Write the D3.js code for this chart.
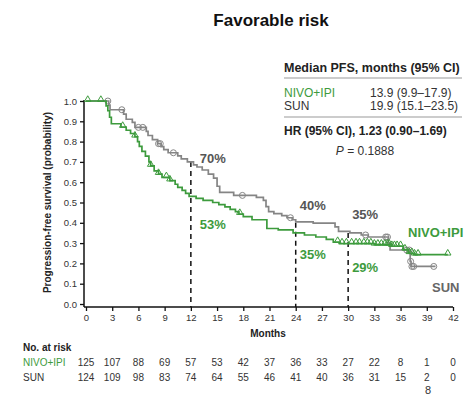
<!DOCTYPE html>
<html>
<head>
<meta charset="utf-8">
<script src="https://cdn.jsdelivr.net/npm/d3@7"></script>
<style>
  body { margin: 0; background: #fff; }
  svg { font-family: "Liberation Sans", Arial, sans-serif; }
</style>
</head>
<body>
<div id="chart"></div>
<script>
// KM steps: [month, survival after the step]
const nivoSteps = [
  [0, 1.0], [2.3, 0.976], [2.5, 0.952], [2.7, 0.92], [2.9, 0.888], [4.0, 0.872],
  [4.6, 0.856], [5.1, 0.84], [5.6, 0.824], [5.9, 0.80], [6.1, 0.776], [6.4, 0.752],
  [6.8, 0.728], [7.2, 0.70], [7.4, 0.68], [7.8, 0.656], [8.3, 0.64], [8.7, 0.624],
  [9.6, 0.608], [10.2, 0.59], [10.5, 0.575], [11.0, 0.56], [11.4, 0.545], [11.8, 0.53],
  [12.6, 0.52], [13.4, 0.51], [14.5, 0.50], [15.2, 0.49], [15.9, 0.478], [16.5, 0.466],
  [17.1, 0.455], [17.5, 0.443], [18.0, 0.43], [19.0, 0.415], [20.7, 0.372], [22.0, 0.365],
  [23.7, 0.35], [25.0, 0.34], [26.3, 0.33], [27.5, 0.318], [28.3, 0.305], [29.0, 0.298],
  [33.0, 0.292], [35.0, 0.285], [36.3, 0.268], [36.9, 0.25], [37.5, 0.243], [41.4, 0.243]
];
const sunSteps = [
  [0, 1.0], [2.6, 0.98], [2.75, 0.957], [4.3, 0.935], [4.6, 0.91], [5.3, 0.895],
  [5.6, 0.87], [6.9, 0.85], [7.1, 0.83], [7.6, 0.81], [8.2, 0.79], [8.6, 0.775],
  [8.9, 0.76], [9.4, 0.745], [10.5, 0.73], [10.9, 0.715], [11.6, 0.70], [12.3, 0.685],
  [12.7, 0.675], [13.3, 0.66], [14.0, 0.64], [14.6, 0.62], [15.0, 0.58], [15.3, 0.55],
  [16.9, 0.535], [19.5, 0.525], [20.3, 0.51], [20.6, 0.48], [20.9, 0.455], [21.5, 0.445],
  [22.4, 0.435], [23.0, 0.425], [23.6, 0.415], [24.0, 0.405], [26.0, 0.398], [28.5, 0.38],
  [28.9, 0.358], [30.2, 0.35], [31.5, 0.34], [32.3, 0.33], [34.6, 0.30], [34.8, 0.266],
  [37.1, 0.21], [37.2, 0.185], [40.0, 0.185]
];
const nivoCensor = [0.2, 1.7, 4.2, 5.6, 7.4, 8.3, 9.2, 9.6, 17.6, 28.8, 29.3, 29.8, 30.4,
  30.9, 31.3, 31.8, 32.2, 32.6, 33.0, 33.4, 33.8, 34.2, 34.5, 34.7, 35.0, 35.3, 35.6, 36.0,
  36.5, 37.0, 37.3, 37.6, 38.0, 41.4];
const sunCensor = [2.5, 4.1, 6.0, 6.5, 8.3, 8.5, 10.0, 17.9, 23.4, 32.0, 34.3, 34.5,
  36.7, 37.0, 37.15, 37.3, 37.5, 39.8];

// landmark rates
const landmarks = [
  { month: 12, sun: 0.70, nivo: 0.53 },
  { month: 24, sun: 0.40, nivo: 0.35 },
  { month: 30, sun: 0.35, nivo: 0.29 }
];

const xTicks = d3.range(0, 43, 3);
const yTicks = d3.range(0, 1.01, 0.1);
const riskNivo = [125, 107, 88, 69, 57, 53, 42, 37, 36, 33, 27, 22, 8, 1, 0];
const riskSun = [124, 109, 98, 83, 74, 64, 55, 46, 41, 40, 36, 31, 15, 2, 0];

const GREEN = '#3d9b3d';
const GRAY = '#858585';

const svg = d3.select('#chart').append('svg')
  .attr('width', 468).attr('height', 398);

const x = d3.scaleLinear().domain([0, 42]).range([86, 453]);
const y = d3.scaleLinear().domain([0, 1]).range([304, 101]);

// title
svg.append('text').attr('x', 271).attr('y', 26).attr('text-anchor', 'middle')
  .style('font-size', '17px').style('font-weight', 'bold').style('fill', '#111')
  .text('Favorable risk');

// median PFS box
svg.append('text').attr('x', 284).attr('y', 72)
  .style('font-size', '12.5px').style('font-weight', 'bold').style('fill', '#222')
  .text('Median PFS, months (95% CI)');
svg.append('line').attr('x1', 284).attr('x2', 462).attr('y1', 78).attr('y2', 78)
  .style('stroke', '#999').style('stroke-width', 1);
svg.append('text').attr('x', 284).attr('y', 97)
  .style('font-size', '12px').style('fill', GREEN).text('NIVO+IPI');
svg.append('text').attr('x', 370).attr('y', 97)
  .style('font-size', '12px').style('fill', '#333').text('13.9 (9.9\u201317.9)');
svg.append('text').attr('x', 284).attr('y', 110)
  .style('font-size', '12px').style('fill', '#333').text('SUN');
svg.append('text').attr('x', 370).attr('y', 110)
  .style('font-size', '12px').style('fill', '#333').text('19.9 (15.1\u201323.5)');
svg.append('line').attr('x1', 284).attr('x2', 462).attr('y1', 117).attr('y2', 117)
  .style('stroke', '#999').style('stroke-width', 1);
svg.append('text').attr('x', 284).attr('y', 135)
  .style('font-size', '12px').style('font-weight', 'bold').style('fill', '#222')
  .text('HR (95% CI), 1.23 (0.90\u20131.69)');
const pText = svg.append('text').attr('x', 365).attr('y', 155).attr('text-anchor', 'middle')
  .style('font-size', '12px').style('fill', '#333');
pText.append('tspan').style('font-style', 'italic').text('P');
pText.append('tspan').text(' = 0.1888');

// axes
const yAxis = svg.append('g').attr('transform', 'translate(84,0)')
  .call(d3.axisLeft(y).tickValues(yTicks).tickFormat(d3.format('.1f')).tickSize(4).tickPadding(3));
yAxis.select('.domain').remove();
const xAxis = svg.append('g').attr('transform', 'translate(0,307)')
  .call(d3.axisBottom(x).tickValues(xTicks).tickSize(4).tickPadding(3));
xAxis.select('.domain').remove();
[yAxis, xAxis].forEach(g => {
  g.selectAll('text').style('font-size', '9.5px').style('fill', '#333')
    .style('font-family', '"Liberation Sans", Arial, sans-serif');
  g.selectAll('line').style('stroke', '#111').style('stroke-width', 1.3);
});
svg.append('line').attr('x1', 84).attr('x2', 84).attr('y1', 100).attr('y2', 307)
  .style('stroke', '#111').style('stroke-width', 1.5);
svg.append('line').attr('x1', 84).attr('x2', 453).attr('y1', 307).attr('y2', 307)
  .style('stroke', '#111').style('stroke-width', 1.5);

svg.append('text').attr('transform', 'translate(51,' + ((101 + 304) / 2) + ') rotate(-90)')
  .attr('text-anchor', 'middle')
  .style('font-size', '10px').style('font-weight', 'bold').style('fill', '#222')
  .text('Progression-free survival (probability)');
svg.append('text').attr('x', 268).attr('y', 337).attr('text-anchor', 'middle')
  .style('font-size', '10px').style('font-weight', 'bold').style('fill', '#222')
  .text('Months');

// landmark dashed lines
svg.selectAll('.landmark').data(landmarks).enter().append('line')
  .attr('x1', d => x(d.month)).attr('x2', d => x(d.month))
  .attr('y1', d => y(d.sun)).attr('y2', 307)
  .style('stroke', '#111').style('stroke-width', 1.5).style('stroke-dasharray', '5,4');

// curves
const line = d3.line().x(d => x(d[0])).y(d => y(d[1])).curve(d3.curveStepAfter);
function survAt(steps, t) {
  let s = steps[0][1];
  steps.forEach(d => { if (d[0] <= t) s = d[1]; });
  return s;
}

svg.append('path').attr('d', line(sunSteps))
  .style('fill', 'none').style('stroke', GRAY).style('stroke-width', 1.7);
svg.selectAll('.sunc').data(sunCensor).enter().append('circle')
  .attr('cx', d => x(d)).attr('cy', d => y(survAt(sunSteps, d)))
  .attr('r', 3).style('fill', 'none').style('stroke', GRAY).style('stroke-width', 1);

svg.append('path').attr('d', line(nivoSteps))
  .style('fill', 'none').style('stroke', GREEN).style('stroke-width', 1.7);
const tri = d3.symbol().type(d3.symbolTriangle).size(18);
svg.selectAll('.nivoc').data(nivoCensor).enter().append('path')
  .attr('d', tri)
  .attr('transform', d => 'translate(' + x(d) + ',' + (y(survAt(nivoSteps, d)) - 1.5) + ')')
  .style('fill', 'none').style('stroke', GREEN).style('stroke-width', 1);

// landmark labels
const lblStyle = s => s.style('font-size', '13px').style('font-weight', 'bold');
const pct = d3.format('.0%');
lblStyle(svg.append('text').attr('x', x(12) + 9).attr('y', 163)).style('fill', '#555').text(pct(landmarks[0].sun));
lblStyle(svg.append('text').attr('x', x(12) + 9).attr('y', 229)).style('fill', GREEN).text(pct(landmarks[0].nivo));
lblStyle(svg.append('text').attr('x', x(24) + 4).attr('y', 210)).style('fill', '#555').text(pct(landmarks[1].sun));
lblStyle(svg.append('text').attr('x', x(24) + 4).attr('y', 259)).style('fill', GREEN).text(pct(landmarks[1].nivo));
lblStyle(svg.append('text').attr('x', x(30) + 4).attr('y', 219)).style('fill', '#555').text(pct(landmarks[2].sun));
lblStyle(svg.append('text').attr('x', x(30) + 4).attr('y', 272)).style('fill', GREEN).text(pct(landmarks[2].nivo));

lblStyle(svg.append('text').attr('x', 408).attr('y', 237)).style('fill', GREEN).text('NIVO+IPI');
lblStyle(svg.append('text').attr('x', 432).attr('y', 292)).style('fill', '#666').text('SUN');

// number at risk
svg.append('text').attr('x', 23).attr('y', 351)
  .style('font-size', '10px').style('font-weight', 'bold').style('fill', '#222').text('No. at risk');
svg.append('text').attr('x', 23).attr('y', 366)
  .style('font-size', '10px').style('fill', GREEN).text('NIVO+IPI');
svg.append('text').attr('x', 23).attr('y', 381)
  .style('font-size', '10px').style('fill', '#333').text('SUN');
svg.selectAll('.rn').data(riskNivo).enter().append('text')
  .attr('x', (d, i) => x(xTicks[i])).attr('y', 366).attr('text-anchor', 'middle')
  .style('font-size', '10px').style('fill', '#333').text(d => d);
svg.selectAll('.rs').data(riskSun).enter().append('text')
  .attr('x', (d, i) => x(xTicks[i])).attr('y', 381).attr('text-anchor', 'middle')
  .style('font-size', '10px').style('fill', '#333').text(d => d);

svg.append('text').attr('x', 428).attr('y', 394).attr('text-anchor', 'middle')
  .style('font-size', '11px').style('fill', '#333').text('8');
</script>
</body>
</html>
